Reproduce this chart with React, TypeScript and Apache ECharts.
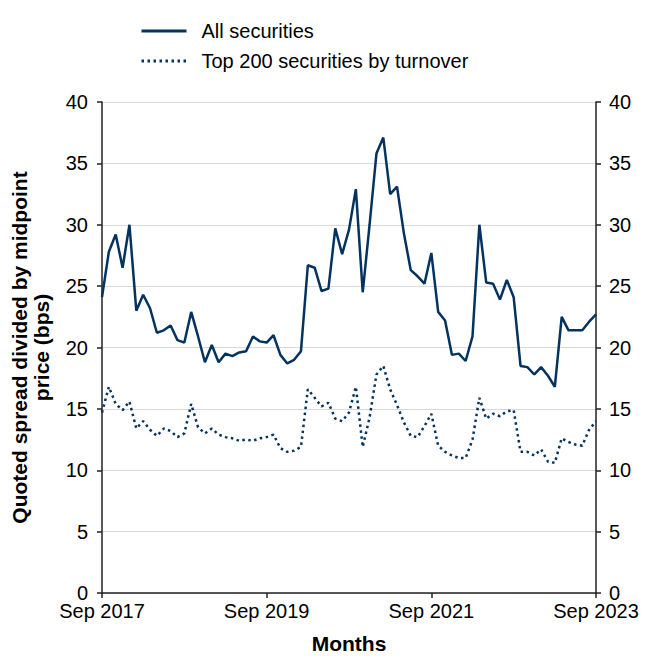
import React, { useEffect, useRef } from "react";
import * as echarts from "echarts";

const months: string[] = (() => {
  const names = ["Jan","Feb","Mar","Apr","May","Jun","Jul","Aug","Sep","Oct","Nov","Dec"];
  const out: string[] = [];
  for (let i = 0; i < 73; i++) {
    const m = (8 + i) % 12;
    const y = 2017 + Math.floor((8 + i) / 12);
    out.push(`${names[m]} ${y}`);
  }
  return out;
})();

const allSecurities = [
  24.1, 27.8, 29.2, 26.5, 30.0, 23.0, 24.3, 23.2, 21.2, 21.4, 21.8, 20.6,
  20.4, 22.9, 20.9, 18.8, 20.2, 18.8, 19.5, 19.3, 19.6, 19.7, 20.9, 20.5,
  20.4, 21.0, 19.4, 18.7, 19.0, 19.7, 26.7, 26.5, 24.6, 24.8, 29.7, 27.6,
  29.6, 32.9, 24.5, 30.0, 35.8, 37.1, 32.5, 33.1, 29.3, 26.3, 25.8, 25.2,
  27.7, 22.9, 22.2, 19.4, 19.5, 18.9, 20.9, 30.0, 25.3, 25.2, 23.9, 25.5,
  24.1, 18.5, 18.4, 17.8, 18.4, 17.7, 16.8, 22.5, 21.4, 21.4, 21.4, 22.1,
  22.7,
];

const top200 = [
  14.7, 16.8, 15.4, 14.9, 15.6, 13.4, 14.0, 13.3, 12.8, 13.4, 13.2, 12.7,
  13.0, 15.4, 13.5, 13.0, 13.4, 12.9, 12.7, 12.6, 12.4, 12.5, 12.4, 12.6,
  12.7, 12.9, 11.8, 11.5, 11.6, 11.9, 16.6, 15.9, 15.2, 15.5, 14.2, 14.0,
  14.7, 16.8, 11.9, 14.3, 17.8, 18.5, 16.6, 15.3, 13.9, 12.8, 12.7, 13.6,
  14.6, 12.0, 11.5, 11.2, 11.0, 11.0, 12.5, 15.9, 14.2, 14.6, 14.4, 14.8,
  14.9, 11.5, 11.5, 11.2, 11.7, 10.7, 10.6, 12.6, 12.3, 12.1, 12.0, 13.3,
  14.0,
];

const labelIdx = [0, 24, 48, 72];
const seriesNames = ["All securities", "Top 200 securities by turnover"];

const COLOR = "#04335f";
const FONT = "Liberation Sans, Arial, sans-serif";

export default function App() {
  const ref = useRef<HTMLDivElement>(null);
  useEffect(() => {
    if (!ref.current) return;
    const chart = echarts.init(ref.current, undefined, { renderer: "svg" });
    const yAxisBase = {
      type: "value",
      min: 0,
      max: 40,
      interval: 5,
      axisLine: { show: true, lineStyle: { color: "#222", width: 1.5 } },
      axisTick: { show: true, length: 5, lineStyle: { color: "#222", width: 1.5 } },
    };
    chart.setOption({
      animation: false,
      textStyle: { fontFamily: FONT },
      grid: { left: 94, right: 52, top: 94, bottom: 68, containLabel: false, outerBoundsMode: "none" },
      legend: {
        orient: "vertical",
        left: 127,
        top: 8,
        itemWidth: 45,
        itemHeight: 14,
        itemGap: 10,
        itemStyle: { opacity: 0 },
        lineStyle: { width: 3 },
        textStyle: { fontSize: 20, color: "#000", fontFamily: FONT, padding: [0, 0, 0, 10] },
        data: seriesNames,
      },
      xAxis: {
        type: "category",
        data: months,
        boundaryGap: false,
        name: "Months",
        nameLocation: "middle",
        nameGap: 40,
        nameTextStyle: { fontSize: 21, fontWeight: "bold", color: "#000", fontFamily: FONT },
        axisLine: { show: true, lineStyle: { color: "#222", width: 1.5 } },
        axisTick: {
          show: true,
          length: 5,
          interval: (i: number) => labelIdx.includes(i),
          lineStyle: { color: "#222", width: 1.5 },
        },
        axisLabel: {
          interval: (i: number) => labelIdx.includes(i),
          color: "#000",
          fontSize: 20,
          fontFamily: FONT,
          margin: 8,
        },
        splitLine: { show: false },
      },
      yAxis: [
        {
          ...yAxisBase,
          position: "left",
          name: "Quoted spread divided by midpoint\nprice (bps)",
          nameLocation: "middle",
          nameGap: 50,
          nameRotate: 90,
          nameTextStyle: { fontSize: 21, fontWeight: "bold", color: "#000", fontFamily: FONT, lineHeight: 22 },
          axisLabel: { color: "#000", fontSize: 20, fontFamily: FONT, margin: 14 },
          splitLine: { show: true, lineStyle: { color: "#d9d9d9", width: 1.2 } },
        },
        {
          ...yAxisBase,
          position: "right",
          axisLabel: { color: "#000", fontSize: 20, fontFamily: FONT, margin: 13 },
          splitLine: { show: false },
        },
      ],
      series: [
        {
          name: seriesNames[0],
          type: "line",
          data: allSecurities,
          symbol: "none",
          lineStyle: { color: COLOR, width: 2.5 },
          itemStyle: { color: COLOR },
        },
        {
          name: seriesNames[1],
          type: "line",
          data: top200,
          symbol: "none",
          lineStyle: { color: COLOR, width: 2.5, type: [2.5, 3.5] },
          itemStyle: { color: COLOR },
        },
      ],
    });
    return () => chart.dispose();
  }, []);
  return <div ref={ref} style={{ width: 640, height: 653 }} />;
}
